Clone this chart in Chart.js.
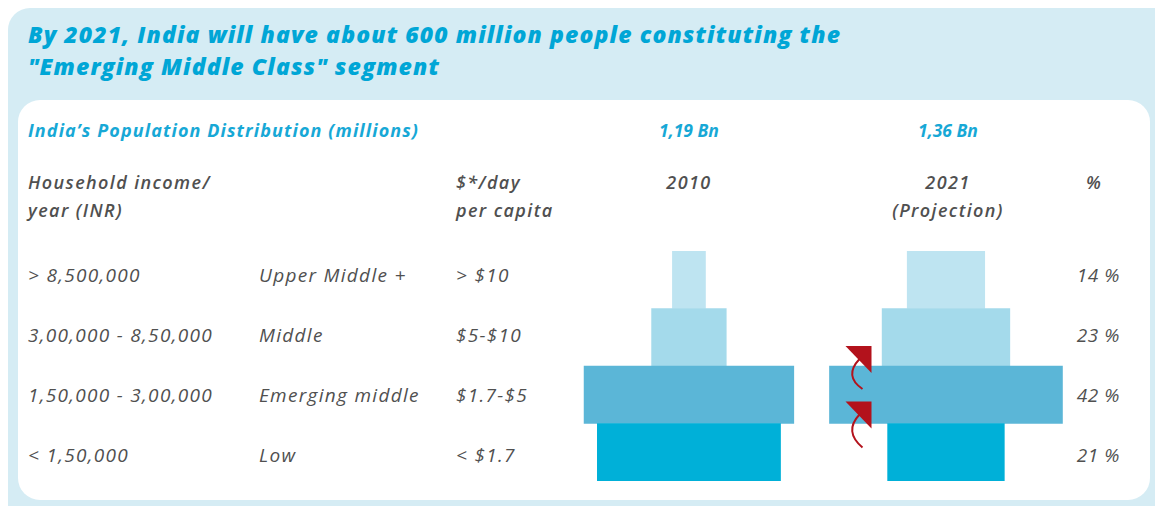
<!DOCTYPE html>
<html><head><meta charset="utf-8">
<script src="https://cdn.jsdelivr.net/npm/chart.js@4.4.1/dist/chart.umd.min.js"></script>
<style>
html,body{margin:0;padding:0;background:#fff;width:1155px;height:506px;overflow:hidden;font-family:"Open Sans",sans-serif;}
#outer{position:absolute;left:8px;top:8px;width:1170px;height:530px;background:#d5ecf4;border-radius:22px;}
#inner{position:absolute;left:18px;top:100px;width:1132px;height:400px;background:#fff;border-radius:22px;}
.t{position:absolute;white-space:nowrap;font-style:italic;}
#title{left:28px;top:18px;font-size:23px;line-height:32px;font-weight:800;color:#00a6d6;letter-spacing:1.1px;}
.sub{font-size:18px;font-weight:700;color:#17a8d6;line-height:24px;letter-spacing:1.1px;}
.tot{font-size:17.5px;font-weight:700;color:#17a8d6;line-height:24px;text-align:center;}
.hd{font-size:18px;font-weight:600;color:#505050;line-height:28px;letter-spacing:1.4px;}
.row{font-size:19px;font-weight:400;color:#505050;line-height:24px;letter-spacing:1.3px;}
canvas{position:absolute;left:0;top:0;}
</style></head>
<body>
<div id="outer"></div>
<div id="inner"></div>
<div class="t" id="title">By 2021, India will have about 600 million people constituting the<br>"Emerging Middle Class" segment</div>
<div class="t sub" style="left:28px;top:118px;">India’s Population Distribution (millions)</div>
<div class="t tot" id="tot0" style="top:118px;"></div>
<div class="t tot" id="tot1" style="top:118px;"></div>
<div class="t hd" style="left:28px;top:168px;">Household income/<br>year (INR)</div>
<div class="t hd" style="left:456px;top:168px;">$*/day<br>per capita</div>
<div class="t hd" id="yr0" style="top:168px;text-align:center;"></div>
<div class="t hd" id="yr1" style="top:168px;text-align:center;"></div>
<div class="t hd" style="left:1086px;top:168px;">%</div>
<div id="rows"></div>
<canvas id="c" width="1155" height="506"></canvas>
<script>
// ---- data ----
const incomeLabels = ["> 8,500,000", "3,00,000 - 8,50,000", "1,50,000 - 3,00,000", "< 1,50,000"];
const segments = ["Upper Middle +", "Middle", "Emerging middle", "Low"];
const dollarLabels = ["> $10", "$5-$10", "$1.7-$5", "< $1.7"];
const years = ["2010", "2021<br>(Projection)"];
const totals = ["1,19 Bn", "1,36 Bn"];
const pop2010 = [81, 183, 514, 449];      // millions
const pop2021 = [190, 313, 571, 286];     // millions
const pct2021 = ["14 %", "23 %", "42 %", "21 %"];
const segColors = ["#bee4f1", "#a4daeb", "#5bb6d7", "#00b0d8"];

// ---- layout constants ----
const X_MAX = 1200, C2010 = 267, C2021 = 897;
const centered = (vals, c) => vals.map(v => [c - v / 2, c + v / 2]);

// header texts
const colC = [689, 948];
[0, 1].forEach(i => {
  const y = document.getElementById('yr' + i);
  y.innerHTML = years[i];
  y.style.left = (colC[i] - 90) + 'px'; y.style.width = '180px';
  const t = document.getElementById('tot' + i);
  t.textContent = totals[i];
  t.style.left = (colC[i] - 80) + 'px'; t.style.width = '160px';
});
// row texts
const rowsDiv = document.getElementById('rows');
segments.forEach((s, i) => {
  const yc = 275 + 60 * i;
  const mk = (txt, left, extra) => {
    const d = document.createElement('div');
    d.className = 't row'; d.textContent = txt;
    d.style.left = left + 'px'; d.style.top = (yc - 12) + 'px';
    if (extra) Object.assign(d.style, extra);
    rowsDiv.appendChild(d);
  };
  mk(incomeLabels[i], 28);
  mk(s, 259);
  mk(dollarLabels[i], 456);
  mk(pct2021[i], 1020, {width: '100px', textAlign: 'right', letterSpacing: '0.6px'});
});

const arrows = {
  id: 'arrows',
  afterDatasetsDraw(chart) {
    const {ctx, scales: {x, y}} = chart;
    const xr = x.getPixelForValue(C2021 - pop2021[2] / 2) + 42;
    [[1, 2, 20, 23], [2, 3, 22, 24]].forEach(([a, b, up, down]) => {
      const yb = (y.getPixelForValue(a) + y.getPixelForValue(b)) / 2;
      ctx.save();
      ctx.fillStyle = '#b3121c'; ctx.strokeStyle = '#b3121c';
      ctx.beginPath();
      ctx.moveTo(xr - 26, yb - up);
      ctx.lineTo(xr, yb - up);
      ctx.lineTo(xr, yb - up + 27);
      ctx.closePath(); ctx.fill();
      ctx.lineWidth = 2;
      ctx.beginPath();
      ctx.moveTo(xr - 12, yb - up + 13);
      ctx.quadraticCurveTo(xr - 28, yb - up + 30, xr - 9, yb + down);
      ctx.stroke();
      ctx.restore();
    });
  }
};

new Chart(document.getElementById('c'), {
  type: 'bar',
  data: {
    labels: segments,
    datasets: [
      {label: '2010', data: centered(pop2010, C2010), backgroundColor: segColors, grouped: false,
       barPercentage: 1, categoryPercentage: 1, borderWidth: 0},
      {label: '2021', data: centered(pop2021, C2021), backgroundColor: segColors, grouped: false,
       barPercentage: 1, categoryPercentage: 1, borderWidth: 0}
    ]
  },
  options: {
    indexAxis: 'y',
    responsive: false, animation: false, devicePixelRatio: 1,
    layout: {padding: {left: 580, right: 1155 - 580 - X_MAX * 0.408, top: 251, bottom: 25}},
    scales: {
      x: {display: false, min: 0, max: X_MAX},
      y: {display: false}
    },
    plugins: {legend: {display: false}, tooltip: {enabled: false}}
  },
  plugins: [arrows]
});
</script>
</body></html>
